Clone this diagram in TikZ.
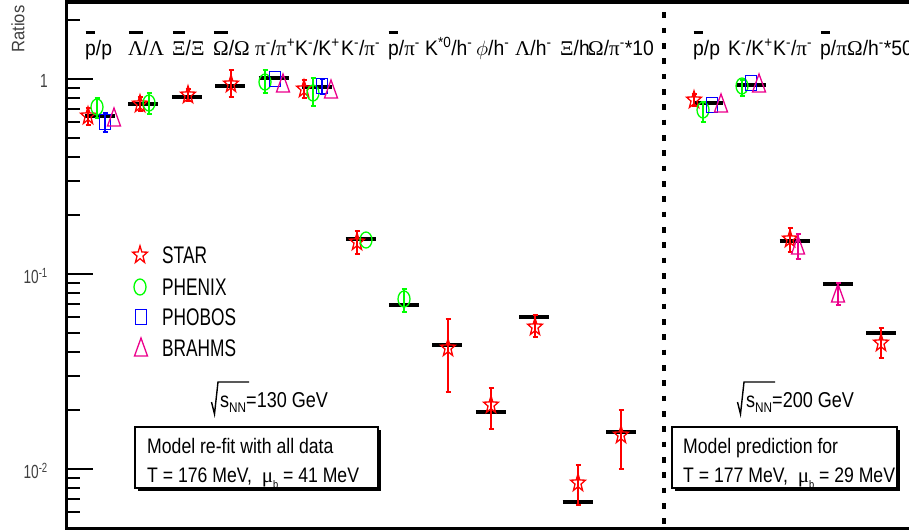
\documentclass[tikz,border=0pt]{standalone}
\usepackage{fontspec}
\setmainfont[FakeStretch=0.92]{Liberation Sans}
\newfontfamily\legfont[FakeStretch=0.72]{Liberation Sans}
\newfontfamily\nar[FakeStretch=0.84]{Liberation Sans}
\newfontfamily\gk{Liberation Serif}
\newcommand\abar[1]{\setbox0=\hbox{#1}\rlap{\hbox to \wd0{\hss\raisebox{1.0em}{\rule{0.9\wd0}{0.16em}}\hss}}\box0}
\newcommand\msup{\textsuperscript{-}}
\newcommand\psup{\textsuperscript{+}}
\newcommand\lsub[1]{\raisebox{-0.25em}{\fontsize{14}{14}\selectfont #1}}
\newcommand\errbar[4]{\draw[#1,line width=1.1pt] (#2,#3) -- (#2,#4) (#2-2.5,#3) -- (#2+2.5,#3) (#2-2.5,#4) -- (#2+2.5,#4);}
\tikzset{
  mk/.style={line width=1.3pt},
  pstar/.pic={\draw[red,mk,line join=miter,xscale=0.92,yscale=1.08] (-90:8.5) -- (-54:3.4) -- (-18:8.5) -- (18:3.4) -- (54:8.5) -- (90:3.4) -- (126:8.5) -- (162:3.4) -- (198:8.5) -- (234:3.4) -- cycle;},
  pcirc/.pic={\draw[green,mk] (0,0) ellipse [x radius=6, y radius=8];},
  psq/.pic={\draw[blue,mk] (-5.5,-7.5) rectangle (5.5,7.5);},
  ptri/.pic={\draw[magenta,mk,line join=miter] (0,-10) -- (-6.5,8) -- (6.5,8) -- cycle;},
  model/.style={line width=4pt},
  lbl/.style={anchor=base west, inner sep=0pt, font=\fontsize{21}{21}\selectfont},
  leg/.style={anchor=west, inner sep=0pt, font=\legfont\fontsize{24}{24}\selectfont},
  axl/.style={anchor=east, inner sep=0pt, text=black!75, font=\legfont\fontsize{19}{19}\selectfont},
  boxt/.style={anchor=base west, inner sep=0pt, font=\nar\fontsize{21}{21}\selectfont},
  sqt/.style={anchor=base west, inner sep=0pt, font=\nar\fontsize{21.5}{21.5}\selectfont},
}
\begin{document}
\begin{tikzpicture}[x=1pt,y=-1pt]
\useasboundingbox (0,0) rectangle (909,531);
\fill[white] (0,0) rectangle (909,531);

% frame
\draw[line width=3.5pt] (65,1.75) -- (909,1.75);
\draw[line width=3pt] (66.5,0) -- (66.5,530);
\draw[line width=3.5pt] (65,528.5) -- (909,528.5);
% ticks
\foreach \y in {79,274,469} \draw[line width=2pt] (66,\y) -- (93,\y);
\foreach \y in {20.3,87.9,97.9,109.2,122.3,137.7,156.6,181,215.3,282.9,292.9,304.2,317.3,332.7,351.6,376,410.3,477.9,487.9,499.2,512.3}
  \draw[line width=2pt] (66,\y) -- (80,\y);
\node[axl] (t0) at (48,81) {1};
\node[axl] (t1) at (48,276) {10\textsuperscript{-1}};
\node[axl] (t2) at (48,471) {10\textsuperscript{-2}};
\node[rotate=90, inner sep=0pt, text=black!75, font=\fontsize{18}{18}\selectfont] (ylab) at (18,29) {Ratios};

% dashed separator
\draw[line width=3.3pt, dash pattern=on 5.7pt off 9.63pt] (664,-2.9) -- (664,530);

% top labels
\node[lbl] (a1) at (85,55) {\abar{p}/p};
\node[lbl] (a2) at (128,55) {\abar{\gk Λ}/{\gk Λ}};
\node[lbl] (a3) at (172,55) {\abar{\gk Ξ}/{\gk Ξ}};
\node[lbl] (a4) at (213,55) {\abar{\gk Ω}/{\gk Ω}};
\node[lbl] (a5) at (255,55) {{\gk π}\msup/{\gk π}\psup};
\node[lbl] (a6) at (295,55) {K\msup/K\psup};
\node[lbl] (a7) at (341,55) {K\msup/{\gk π}\msup};
\node[lbl] (a8) at (388,55) {\abar{p}/{\gk π}\msup};
\node[lbl] (a9) at (425,55) {K\textsuperscript{*0}/h\msup};
\node[lbl] (a10) at (476,55) {$\phi$/h\msup};
\node[lbl] (a11) at (515,55) {{\gk Λ}/h\msup};
\node[lbl] (a12) at (560,55) {{\gk Ξ}/h};
\node[lbl] (a13) at (588,55) {{\gk Ω}/{\gk π}\msup*10};
\node[lbl] (b1) at (693,55) {\abar{p}/p};
\node[lbl] (b2) at (728,55) {K\msup/K\psup};
\node[lbl] (b3) at (773,55) {K\msup/{\gk π}\msup};
\node[lbl] (b4) at (820,55) {\abar{p}/{\gk π}};
\node[lbl] (b5) at (847,55) {{\gk Ω}/h\msup*50};

% model bars
\foreach \c/\y in {100/116, 143.4/104, 186.8/97, 230.3/86, 273.7/78, 317.1/87, 360.5/239, 403.9/305, 447.4/345, 490.8/412, 534.2/317, 577.6/502, 621/432, 708/103, 751.3/85, 794.6/241, 837.9/284, 881.2/333}
  \draw[model] (\c-15,\y) -- (\c+15,\y);

% STAR
\foreach \x/\y/\a/\b in {88/116/108/125, 140/104/97/111, 188/95/89/101, 231/84/70/97, 304/89/80/98, 357/242/231/254, 448/348/319/392, 491/405/388/429, 535/327/315/337, 578/483/465/505, 621/435/410/469, 694/100/94/106, 790/239/228/252, 881/343/328/358}
  {\errbar{red}{\x}{\a}{\b} \pic at (\x,\y) {pstar};}
% PHENIX
\foreach \x/\y/\a/\b in {97/107/98/118, 149/103/93/114, 265/82/70/93, 313/93/78/106, 404/299/289/312, 703/110/102/122, 742/86/80/96}
  {\errbar{green}{\x}{\a}{\b} \pic at (\x,\y) {pcirc};}
\pic at (366,240) {pcirc};
% PHOBOS
\errbar{blue}{105}{113}{132}
\errbar{blue}{322}{79}{94}
\foreach \x/\y in {105/122, 275/79, 322/86, 712/105, 751/83}
  \pic at (\x,\y) {psq};
% BRAHMS
\errbar{magenta}{798}{234}{259}
\errbar{magenta}{838}{283}{305}
\foreach \x/\y in {114/118, 283/84, 331/90, 721/104, 759/84, 798/246, 838/294}
  \pic at (\x,\y) {ptri};

% legend
\pic at (140,255) {pstar};
\pic at (140,287) {pcirc};
\pic at (141,317) {psq};
\pic at (141,348) {ptri};
\node[leg] (l1) at (162,255) {STAR};
\node[leg] (l2) at (162,287) {PHENIX};
\node[leg] (l3) at (162,317) {PHOBOS};
\node[leg] (l4) at (162,348) {BRAHMS};

% sqrt labels
\draw[line width=1.4pt, line join=miter] (211.5,402) -- (214.5,414) -- (218,382) -- (249,382);
\node[sqt] (s1) at (220,407) {s\lsub{NN}=130 GeV};
\draw[line width=1.4pt, line join=miter] (737.5,402) -- (740.5,414) -- (744,382) -- (775,382);
\node[sqt] (s2) at (746,407) {s\lsub{NN}=200 GeV};

% boxes
\fill (138,430) rectangle (381,491);
\draw[line width=1.2pt, fill=white] (135,427) rectangle (378,488);
\node[boxt] (m1) at (147,453) {Model re-fit with all data};
\node[boxt] (m2) at (147,482) {T = 176 MeV,\ \ {\gk μ}\raisebox{-0.3em}{\fontsize{11}{11}\selectfont b} = 41 MeV};
\fill (675,430) rectangle (900,491);
\draw[line width=1.2pt, fill=white] (672,427) rectangle (897,488);
\node[boxt] (n1) at (683,453) {Model prediction for};
\node[boxt] (n2) at (683,482) {T = 177 MeV,\ \ {\gk μ}\raisebox{-0.3em}{\fontsize{11}{11}\selectfont b} = 29 MeV};
\end{tikzpicture}
\end{document}
